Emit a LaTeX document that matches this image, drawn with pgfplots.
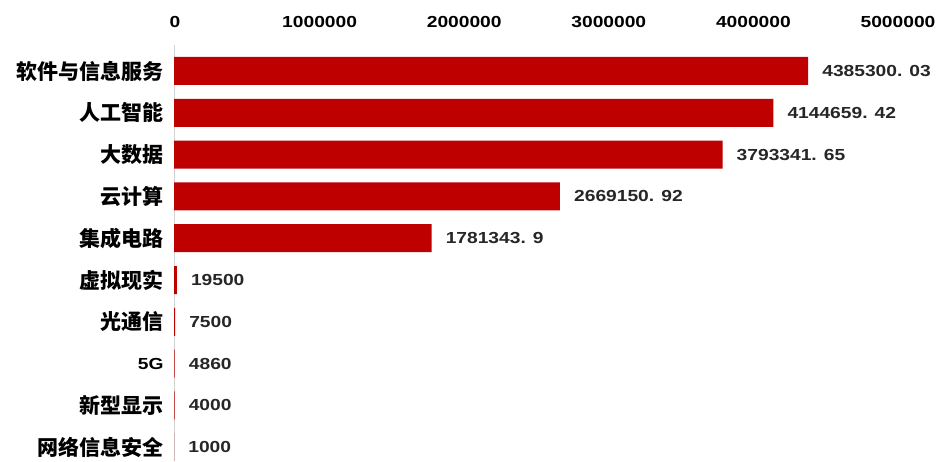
\documentclass[border=0pt]{standalone}
\usepackage{pgfplots}
\usepackage{pgfplotstable}
\pgfplotsset{compat=1.18}
\usepackage{fontspec}
\setmainfont{Liberation Sans}
\newfontfamily\cjk{Noto Sans CJK SC}
\newfontfamily\numfont[FakeStretch=1.2]{Liberation Sans}

\pgfplotstableread[col sep=comma]{
y,x,lab
0,4385300.03,4385300. 03
1,4144659.42,4144659. 42
2,3793341.65,3793341. 65
3,2669150.92,2669150. 92
4,1781343.9,1781343. 9
5,19500,19500
6,7500,7500
7,4860,4860
8,4000,4000
9,1000,1000
}\industry

\begin{document}
\begin{tikzpicture}
\path[use as bounding box] (0,0) rectangle (936pt,461pt);
\begin{axis}[
  at={(174pt,0pt)}, anchor=south west,
  scale only axis, width=723pt, height=416pt,
  xbar, bar width=28pt,
  xmin=0, xmax=5000000,
  ymin=-0.622, ymax=9.33, y dir=reverse,
  axis x line=top, axis y line=left,
  x axis line style={draw=none},
  y axis line style={draw=gray!35, -},
  major tick length=0pt,
  xtick={0,1000000,2000000,3000000,4000000,5000000},
  xticklabels={0,1000000,2000000,3000000,4000000,5000000},
  scaled x ticks=false,
  xticklabel style={font=\numfont\bfseries\fontsize{16}{18}\selectfont, anchor=base, yshift=17pt, xshift=1pt},
  ytick={0,...,9},
  yticklabels={软件与信息服务,人工智能,大数据,云计算,集成电路,虚拟现实,光通信,{\numfont\fontsize{16}{18}\selectfont 5G},新型显示,网络信息安全},
  yticklabel style={font=\cjk\bfseries\fontsize{21}{24}\selectfont, anchor=east, xshift=-7pt},
  nodes near coords,
  point meta=explicit symbolic,
  nodes near coords style={font=\numfont\bfseries\fontsize{16}{18}\selectfont, anchor=west, inner sep=0pt, xshift=14pt, text=black!85},
]
\addplot[fill=red!75!black, draw=none] table[x=x, y=y, meta=lab] {\industry};
\end{axis}
\end{tikzpicture}
\end{document}
